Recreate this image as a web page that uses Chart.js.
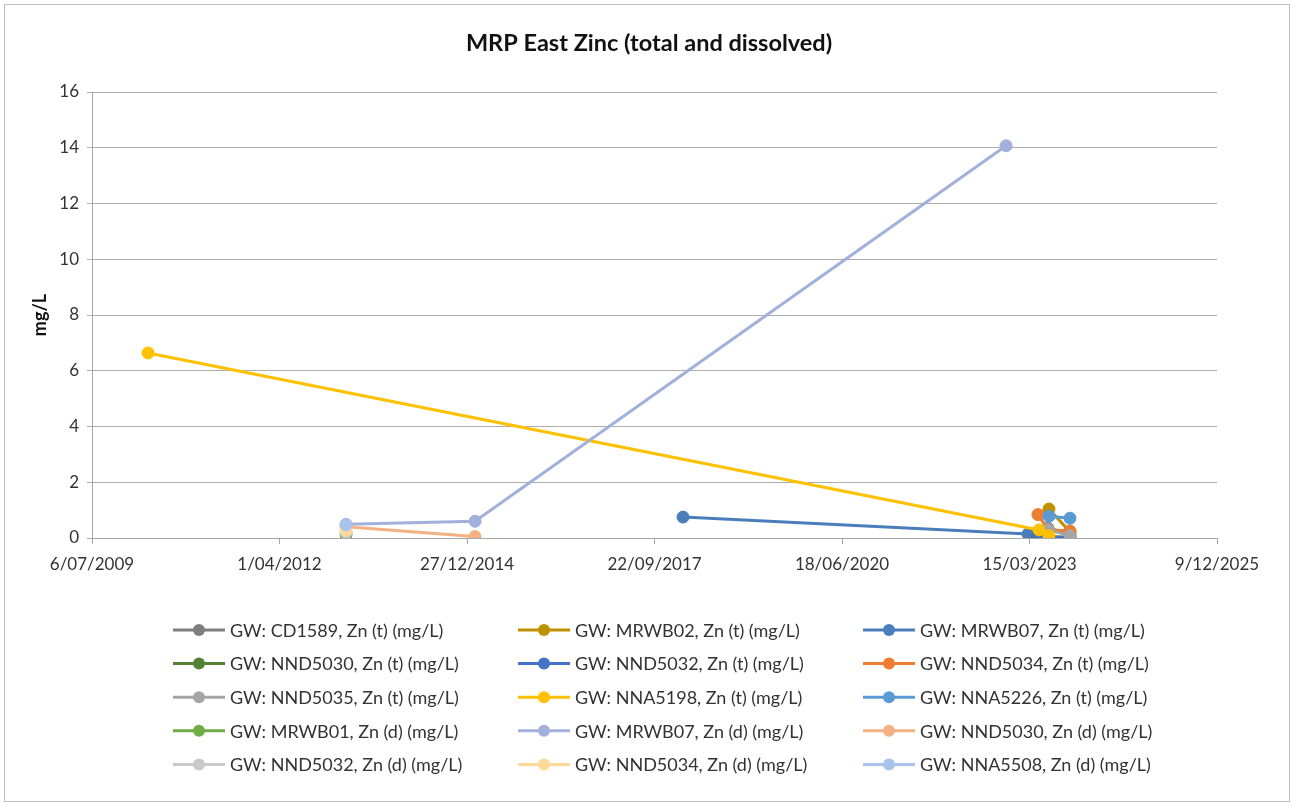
<!DOCTYPE html>
<html>
<head>
<meta charset="utf-8">
<title>MRP East Zinc (total and dissolved)</title>
<script src="https://cdn.jsdelivr.net/npm/chart.js@4.4.1/dist/chart.umd.min.js"></script>
<style>
  html, body { margin: 0; padding: 0; background: #ffffff; }
  #wrap { width: 1297px; height: 807px; }
</style>
</head>
<body>
<div id="wrap"><canvas id="chart" width="1297" height="807"></canvas></div>
<script>
// ---- Monitoring data: sample dates (ISO) and zinc concentrations (mg/L) ----
const seriesNames = [
  'GW: CD1589, Zn (t) (mg/L)',
  'GW: MRWB02, Zn (t) (mg/L)',
  'GW: MRWB07, Zn (t) (mg/L)',
  'GW: NND5030, Zn (t) (mg/L)',
  'GW: NND5032, Zn (t) (mg/L)',
  'GW: NND5034, Zn (t) (mg/L)',
  'GW: NND5035, Zn (t) (mg/L)',
  'GW: NNA5198, Zn (t) (mg/L)',
  'GW: NNA5226, Zn (t) (mg/L)',
  'GW: MRWB01, Zn (d) (mg/L)',
  'GW: MRWB07, Zn (d) (mg/L)',
  'GW: NND5030, Zn (d) (mg/L)',
  'GW: NND5032, Zn (d) (mg/L)',
  'GW: NND5034, Zn (d) (mg/L)',
  'GW: NNA5508, Zn (d) (mg/L)'
];

const seriesColors = [
  '#7F7F7F', '#BF9000', '#4A7EBB', '#548235', '#4472C4',
  '#ED7D31', '#A5A5A5', '#FFC000', '#5B9BD5', '#70AD47',
  '#A2B0DC', '#F4B183', '#C9C9C9', '#FFD999', '#A9C4EB'
];

const seriesDates = [
  ['2023-06-22', '2023-10-17'],
  ['2023-06-27', '2023-10-17'],
  ['2018-02-21', '2023-03-07'],
  ['2023-04-29', '2023-10-17'],
  ['2023-04-29', '2023-10-17'],
  ['2023-04-29', '2023-06-22', '2023-10-17'],
  ['2023-06-22', '2023-10-17'],
  ['2010-05-01', '2023-05-05', '2023-06-27'],
  ['2023-06-27', '2023-10-17'],
  ['2013-03-22'],
  ['2013-03-22', '2015-02-08', '2022-11-10'],
  ['2013-03-22', '2015-02-08'],
  ['2013-03-22'],
  ['2013-03-22'],
  ['2013-03-22']
];

const seriesValues = [
  [0.35, 0.15],
  [1.04, 0.22],
  [0.75, 0.14],
  [0.05, 0.03],
  [0.04, 0.03],
  [0.84, 0.30, 0.25],
  [0.30, 0.08],
  [6.64, 0.29, 0.08],
  [0.78, 0.71],
  [0.12],
  [0.49, 0.60, 14.07],
  [0.40, 0.05],
  [0.20],
  [0.28],
  [0.47]
];

// Axis ranges: dates as spreadsheet serial day numbers
const xMinDate = '2009-07-06';
const xMaxDate = '2025-12-09';
const xStepDays = 1000;
const yMin = 0;
const yMax = 16;
const yStep = 2;

const chartTitle = 'MRP East Zinc (total and dissolved)';
const yAxisTitle = 'mg/L';

// ---- helpers ----
const FONT = 'Lato, "Noto Sans", sans-serif';
const TEXT_COLOR = '#333333';

function toSerial(iso) {
  const [y, m, d] = iso.split('-').map(Number);
  return Date.UTC(y, m - 1, d) / 86400000 + 25569;
}
function serialLabel(v) {
  const dt = new Date((v - 25569) * 86400000);
  const mm = String(dt.getUTCMonth() + 1).padStart(2, '0');
  return dt.getUTCDate() + '/' + mm + '/' + dt.getUTCFullYear();
}

const datasets = seriesNames.map((name, i) => ({
  label: name,
  data: seriesDates[i].map((d, k) => ({ x: toSerial(d), y: seriesValues[i][k] })),
  borderColor: seriesColors[i],
  backgroundColor: seriesColors[i],
  pointBackgroundColor: seriesColors[i],
  pointBorderColor: seriesColors[i],
  pointRadius: 6,
  pointBorderWidth: 1,
  borderWidth: 3,
  tension: 0,
  // later series are painted over earlier ones
  order: seriesNames.length - i
}));

// Frame, title and three-column legend painted on the canvas
const decorations = {
  id: 'decorations',
  beforeDraw(chart) {
    const ctx = chart.ctx;
    ctx.save();
    ctx.fillStyle = '#ffffff';
    ctx.fillRect(0, 0, chart.width, chart.height);
    ctx.strokeStyle = '#BFBFBF';
    ctx.lineWidth = 1;
    ctx.strokeRect(4.5, 4.5, 1285, 797);
    ctx.restore();
  },
  afterDraw(chart) {
    const ctx = chart.ctx;
    ctx.save();
    ctx.fillStyle = '#111111';
    ctx.font = 'bold 23.5px ' + FONT;
    ctx.textAlign = 'center';
    ctx.textBaseline = 'middle';
    ctx.fillText(chartTitle, 649, 43);

    const cols = 3, x0 = 173, colW = 345, y0 = 630, rowH = 33.6, lineLen = 52;
    ctx.font = '18px ' + FONT;
    ctx.textAlign = 'left';
    chart.data.datasets.forEach((ds, i) => {
      const col = i % cols, row = Math.floor(i / cols);
      const lx = x0 + col * colW, ly = y0 + row * rowH;
      ctx.strokeStyle = ds.borderColor;
      ctx.lineWidth = 3;
      ctx.beginPath();
      ctx.moveTo(lx, ly);
      ctx.lineTo(lx + lineLen, ly);
      ctx.stroke();
      ctx.fillStyle = ds.backgroundColor;
      ctx.beginPath();
      ctx.arc(lx + lineLen / 2, ly, 6, 0, Math.PI * 2);
      ctx.fill();
      ctx.fillStyle = TEXT_COLOR;
      ctx.fillText(ds.label, lx + lineLen + 5, ly + 1);
    });
    ctx.restore();
  }
};

new Chart(document.getElementById('chart'), {
  type: 'line',
  data: { datasets },
  plugins: [decorations],
  options: {
    responsive: false,
    animation: false,
    devicePixelRatio: 1,
    layout: { padding: { left: 0, right: 80, top: 92, bottom: 229 } },
    plugins: {
      legend: { display: false },
      title: { display: false },
      tooltip: { enabled: false }
    },
    scales: {
      x: {
        type: 'linear',
        min: toSerial(xMinDate),
        max: toSerial(xMaxDate),
        afterFit(scale) { scale.height = 40; },
        ticks: {
          stepSize: xStepDays,
          autoSkip: false,
          maxRotation: 0,
          padding: 10,
          color: TEXT_COLOR,
          font: { family: FONT, size: 17 },
          callback: (v) => serialLabel(v)
        },
        grid: { drawOnChartArea: false, drawTicks: true, tickLength: 6, color: '#A6A6A6' },
        border: { display: true, color: '#A6A6A6', width: 1 }
      },
      y: {
        min: yMin,
        max: yMax,
        afterFit(scale) { scale.width = 92; },
        ticks: {
          stepSize: yStep,
          padding: 8,
          color: TEXT_COLOR,
          font: { family: FONT, size: 17 }
        },
        grid: { color: '#ADADAD', tickLength: 5, lineWidth: 1 },
        border: { display: true, color: '#A6A6A6', width: 1 },
        title: {
          display: true,
          text: yAxisTitle,
          color: '#111111',
          font: { family: FONT, size: 18, weight: 'bold' },
          padding: { top: 29, bottom: 0 }
        }
      }
    }
  }
});
</script>
</body>
</html>
